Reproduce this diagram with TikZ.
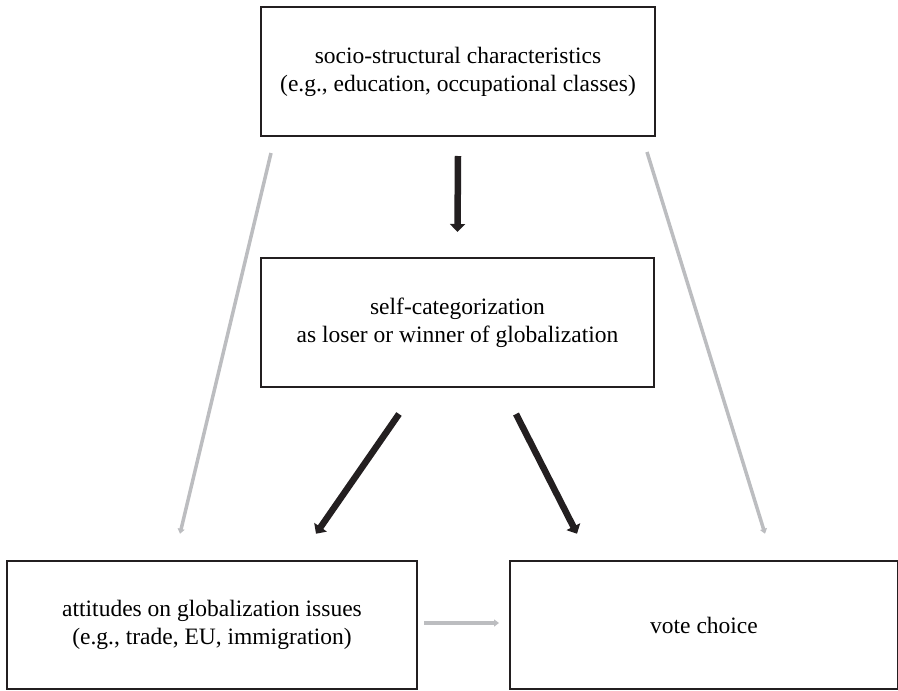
\documentclass[tikz,border=0pt]{standalone}
\usepackage{fontspec}
\setmainfont{Liberation Serif}
\usetikzlibrary{arrows.meta}
\definecolor{darkline}{RGB}{35,31,32}
\definecolor{paleline}{RGB}{188,189,192}
\tikzset{
	box/.style={draw=darkline, line width=2pt, inner sep=0pt, align=center, font=\fontsize{23.5}{28}\selectfont},
	bigarrow/.style={draw=darkline, line width=6.5pt, -{Triangle[width=15pt,length=8pt]}},
	palearrow/.style={draw=paleline, line width=3.5pt, -{Triangle[width=7pt,length=5pt]}}
}
\begin{document}
\begin{tikzpicture}[x=1pt,y=-1pt]
		\useasboundingbox (0,0) rectangle (898,691);
		\node[box, minimum width=394pt, minimum height=129pt] (social) at (458,71.5) {socio-structural characteristics\\(e.g., education, occupational classes)};
		\node[box, minimum width=393pt, minimum height=129pt] (selfcat) at (457.5,322.5) {self-categorization\\as loser or winner of globalization};
		\node[box, minimum width=410pt, minimum height=128.5pt] (attitudes) at (212,625) {attitudes on globalization issues\\(e.g., trade, EU, immigration)};
		\node[box, minimum width=388pt, minimum height=128.5pt] (vote) at (704,625) {vote choice};
		\draw[bigarrow] ([yshift=-19pt]social.south) -- ([yshift=25pt]selfcat.north);
		\draw[bigarrow] ([shift={(-58.5pt,-26pt)}]selfcat.south) -- ([shift={(104pt,26pt)}]attitudes.north);
		\draw[bigarrow] ([shift={(58.5pt,-26pt)}]selfcat.south) -- ([shift={(-127pt,26pt)}]vote.north);
		\draw[palearrow] ([shift={(-187pt,-16pt)}]social.south) -- ([shift={(-32pt,26pt)}]attitudes.north);
		\draw[palearrow] ([shift={(189pt,-15pt)}]social.south) -- ([shift={(61pt,26pt)}]vote.north);
		\draw[palearrow] ([shift={(6pt,2pt)}]attitudes.east) -- ([shift={(-10pt,2pt)}]vote.west);
	\end{tikzpicture}
\end{document}
